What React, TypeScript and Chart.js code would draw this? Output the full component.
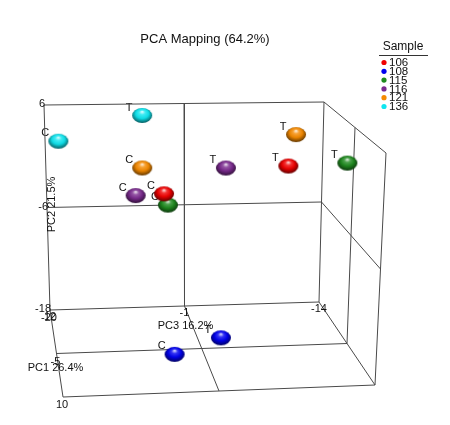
import React, { useEffect, useRef } from "react";
import { Chart, registerables } from "chart.js";

Chart.register(...registerables);

// ---------- data ----------
const chartTitle = "PCA Mapping (64.2%)";
const legendTitle = "Sample";
const samples = ["106", "108", "115", "116", "121", "136"];
const sampleColors = ["#f00000", "#0000f0", "#1f8a1f", "#7a2a8e", "#f58a00", "#10e6f0"];
const conditions = ["C", "T"];

// PCA scores, control (C) and treated (T), one entry per sample
const pc1C = [-9.5, -2, -8, -11, -11, -14];
const pc2C = [-2.0, -17.6, -2.9, -2.5, 0.6, 3.1];
const pc3C = [2.0, 1.7, 1.8, 4.4, 3.8, 11.1];
const pc1T = [-8, -5, 1, -8, -11, -14];
const pc2T = [1.2, -16.9, 3.3, 1.1, 4.1, 5.9];
const pc3T = [-8.8, -2.7, -12.4, -3.3, -9.9, 3.5];

const pc1Ticks = [-20, -5, 10];
const pc2Ticks = [6, -6, -18];
const pc3Ticks = [12, -1, -14];
const pc1Title = "PC1 26.4%";
const pc2Title = "PC2 21.5%";
const pc3Title = "PC3 16.2%";

// ---------- view (camera) ----------
const VIEW_W = 450;
const VIEW_H = 425;
// screen positions of the box corners (back = first PC1 tick, front = last)
const CUBE = {
  back: { lt: [44, 105], rt: [324, 102], lb: [50, 310], rb: [319, 302] },
  front: { lt: [63, 159], rt: [386, 153], lb: [63, 397], rb: [375, 385] },
};
const FONT = '"Liberation Sans", Arial, sans-serif';

const lerp = (a: number, b: number, t: number) => a + (b - a) * t;

function project(p1: number, p2: number, p3: number) {
  const u = (p3 - pc3Ticks[0]) / (pc3Ticks[pc3Ticks.length - 1] - pc3Ticks[0]);
  const v = (p2 - pc2Ticks[pc2Ticks.length - 1]) / (pc2Ticks[0] - pc2Ticks[pc2Ticks.length - 1]);
  const w = (p1 - pc1Ticks[0]) / (pc1Ticks[pc1Ticks.length - 1] - pc1Ticks[0]);
  const face = (f: any) => {
    const tx = lerp(f.lt[0], f.rt[0], u), ty = lerp(f.lt[1], f.rt[1], u);
    const bx = lerp(f.lb[0], f.rb[0], u), by = lerp(f.lb[1], f.rb[1], u);
    return [lerp(bx, tx, v), lerp(by, ty, v)];
  };
  const b = face(CUBE.back);
  const f = face(CUBE.front);
  return { x: lerp(b[0], f[0], w), y: lerp(b[1], f[1], w) };
}

function hexRgb(hex: string) {
  const n = parseInt(hex.slice(1), 16);
  return [(n >> 16) & 255, (n >> 8) & 255, n & 255];
}
function mix(c: number[], t: number[], k: number) {
  return `rgb(${c.map((v, i) => Math.round(v + (t[i] - v) * k)).join(",")})`;
}

function makeSphere(hex: string, w = 20, h = 15) {
  const c = document.createElement("canvas");
  c.width = w + 2;
  c.height = h + 2;
  const ctx = c.getContext("2d")!;
  const base = hexRgb(hex);
  const R = w / 2;
  ctx.translate(c.width / 2, c.height / 2);
  ctx.scale(1, h / w);
  const g = ctx.createRadialGradient(0, -R * 0.5, R * 0.05, 0, -R * 0.1, R * 1.05);
  g.addColorStop(0, mix(base, [255, 255, 255], 0.8));
  g.addColorStop(0.25, mix(base, [255, 255, 255], 0.2));
  g.addColorStop(0.6, mix(base, [0, 0, 0], 0.05));
  g.addColorStop(1, mix(base, [0, 0, 0], 0.55));
  ctx.fillStyle = g;
  ctx.beginPath();
  ctx.arc(0, 0, R, 0, Math.PI * 2);
  ctx.fill();
  return c;
}

export default function App() {
  const ref = useRef<HTMLCanvasElement | null>(null);

  useEffect(() => {
    if (!ref.current) return;
    const [a1, m1, b1] = pc1Ticks;
    const [t2, m2, b2] = pc2Ticks;
    const [l3, m3, r3] = pc3Ticks;
    const segments: number[][][] = [
      // back wall
      [[a1, t2, l3], [a1, t2, r3]],
      [[a1, b2, l3], [a1, b2, r3]],
      [[a1, t2, l3], [a1, b2, l3]],
      [[a1, t2, r3], [a1, b2, r3]],
      [[a1, m2, l3], [a1, m2, r3]],
      [[a1, t2, m3], [a1, b2, m3]],
      // right wall
      [[a1, t2, r3], [b1, t2, r3]],
      [[b1, t2, r3], [b1, b2, r3]],
      [[a1, b2, r3], [b1, b2, r3]],
      [[a1, m2, r3], [b1, m2, r3]],
      [[m1, t2, r3], [m1, b2, r3]],
      // floor
      [[b1, b2, l3], [b1, b2, r3]],
      [[a1, b2, l3], [b1, b2, l3]],
      [[m1, b2, l3], [m1, b2, r3]],
      [[a1, b2, m3], [b1, b2, m3]],
    ];

    const frameSets = segments.map((s) => ({
      label: "",
      data: s.map((p) => project(p[0], p[1], p[2])),
      showLine: true,
      borderColor: "#4a4a4a",
      borderWidth: 1,
      pointRadius: 0,
      order: 10,
    }));

    const sampleSets = samples.map((name, i) => ({
      label: name,
      data: [project(pc1C[i], pc2C[i], pc3C[i]), project(pc1T[i], pc2T[i], pc3T[i])],
      pointStyle: makeSphere(sampleColors[i]) as any,
      pointRadius: 9,
      backgroundColor: sampleColors[i],
      borderColor: sampleColors[i],
      showLine: false,
      order: 0,
    }));

    const textPlugin = {
      id: "pcaText",
      beforeDatasetsDraw(chart: any) {
        const ctx = chart.ctx;
        ctx.save();
        ctx.font = `11px ${FONT}`;
        ctx.fillStyle = "#111";
        ctx.textAlign = "center";
        ctx.textBaseline = "middle";
        samples.forEach((_, i) => {
          const meta = chart.getDatasetMeta(frameSets.length + i);
          meta.data.forEach((pt: any, j: number) => {
            ctx.fillText(conditions[j], pt.x - 13, pt.y - 8);
          });
        });
        ctx.restore();
      },
      afterDatasetsDraw(chart: any) {
        const ctx = chart.ctx;
        const xs = chart.scales.x;
        const ys = chart.scales.y;
        const px = (p: { x: number; y: number }) => ({ x: xs.getPixelForValue(p.x), y: ys.getPixelForValue(p.y) });
        ctx.save();
        ctx.fillStyle = "#111";
        ctx.font = `11px ${FONT}`;
        ctx.textBaseline = "middle";
        // PC2 ticks on the back-left edge
        ctx.textAlign = "right";
        pc2Ticks.forEach((t) => {
          const p = px(project(a1, t, l3));
          ctx.fillText(String(t), p.x + 1, p.y - 1);
        });
        // PC1 ticks on the floor-left edge
        ctx.textAlign = "center";
        pc1Ticks.forEach((t) => {
          const p = px(project(t, b2, l3));
          ctx.fillText(String(t), p.x - 1, p.y + 8);
        });
        // PC3 ticks on the back-bottom edge
        pc3Ticks.forEach((t) => {
          const p = px(project(a1, b2, t));
          ctx.fillText(String(t), p.x, p.y + 7);
        });
        // axis titles
        const pc1p = px(project(m1, b2, l3));
        ctx.fillText(pc1Title, pc1p.x - 1, pc1p.y + 14);
        const pc3p = px(project(a1, b2, m3));
        ctx.fillText(pc3Title, pc3p.x + 1, pc3p.y + 20);
        const pc2p = px(project(a1, m2, l3));
        ctx.save();
        ctx.translate(pc2p.x + 5, pc2p.y - 3);
        ctx.rotate(-Math.PI / 2);
        ctx.fillText(pc2Title, 0, 0);
        ctx.restore();

        // chart title
        ctx.font = `13px ${FONT}`;
        ctx.fillText(chartTitle, 205, 39);

        // legend
        ctx.font = `12px ${FONT}`;
        ctx.fillText(legendTitle, 403, 47);
        ctx.strokeStyle = "#333";
        ctx.lineWidth = 1;
        ctx.beginPath();
        ctx.moveTo(379, 55.5);
        ctx.lineTo(428, 55.5);
        ctx.stroke();
        ctx.font = `11.5px ${FONT}`;
        ctx.textAlign = "left";
        samples.forEach((s, i) => {
          const y = 62.5 + i * 8.8;
          ctx.fillStyle = sampleColors[i];
          ctx.beginPath();
          ctx.arc(384, y, 2.6, 0, Math.PI * 2);
          ctx.fill();
          ctx.fillStyle = "#111";
          ctx.fillText(s, 389, y + 0.5);
        });
        ctx.restore();
      },
    };

    const chart = new Chart(ref.current, {
      type: "scatter",
      data: { datasets: [...frameSets, ...sampleSets] as any },
      options: {
        animation: false,
        responsive: false,
        events: [],
        layout: { padding: 0, autoPadding: false },
        plugins: { legend: { display: false }, title: { display: false }, tooltip: { enabled: false } },
        scales: {
          x: { type: "linear", min: 0, max: VIEW_W, display: false },
          y: { type: "linear", min: 0, max: VIEW_H, reverse: true, display: false },
        },
      },
      plugins: [textPlugin],
    });
    return () => chart.destroy();
  }, []);

  return (
    <div style={{ position: "fixed", left: 0, top: 0, width: VIEW_W, height: VIEW_H, background: "#fff" }}>
      <canvas ref={ref} width={VIEW_W} height={VIEW_H} style={{ display: "block" }} />
    </div>
  );
}
